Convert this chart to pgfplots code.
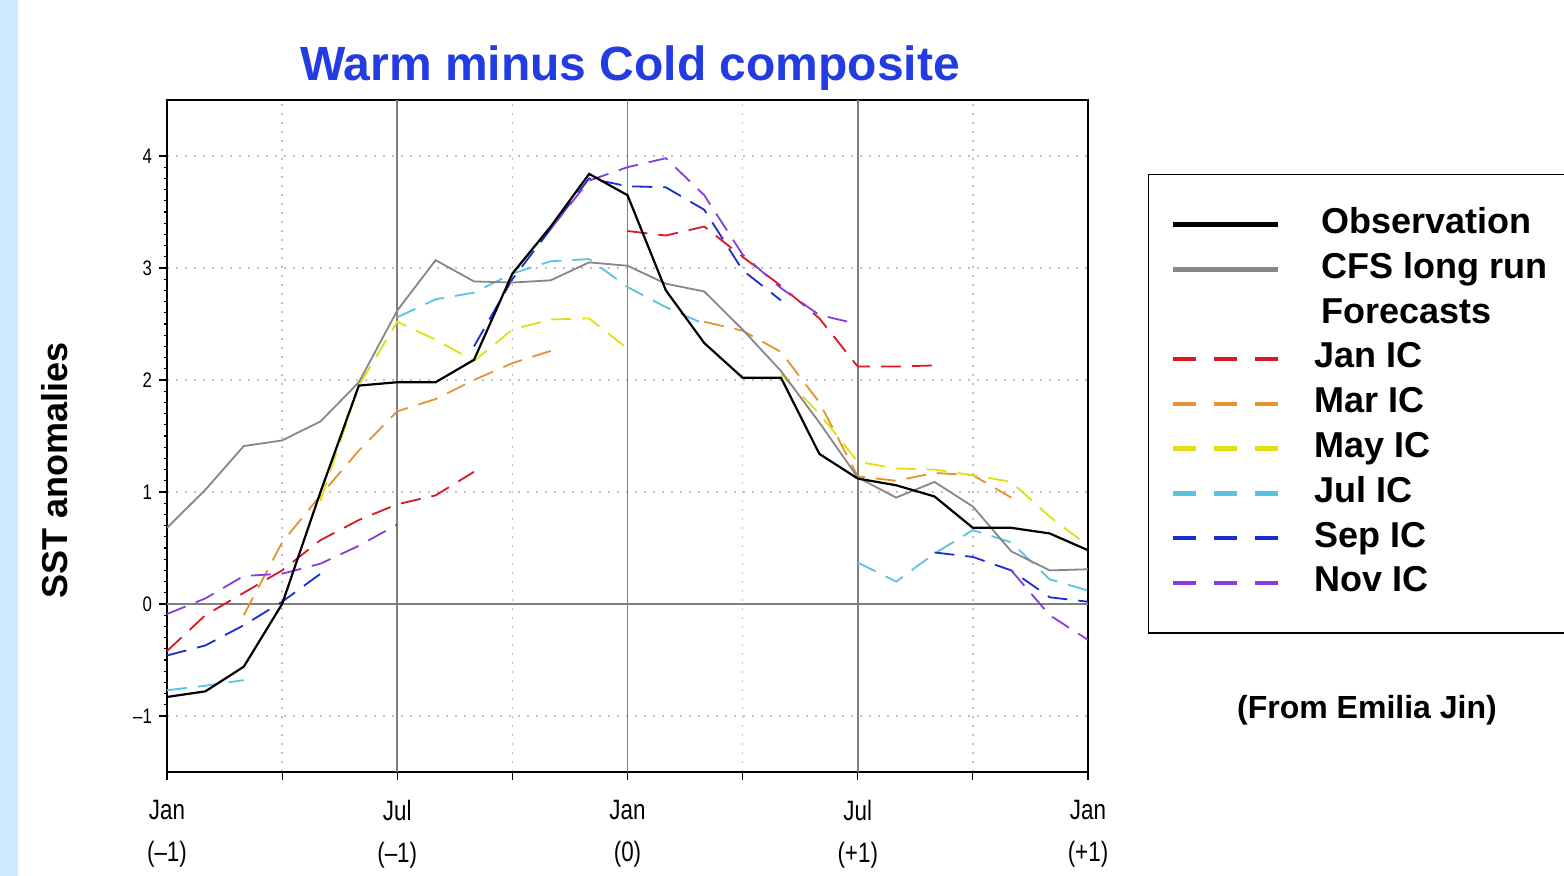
\documentclass[border=0pt]{standalone}
\usepackage{pgfplots}
\pgfplotsset{compat=1.18}
\usepackage{fontspec}
\setmainfont{Liberation Sans}
\newfontfamily\tickfont[FakeStretch=0.8]{Liberation Sans}
\definecolor{janred}{RGB}{215,25,35}
\definecolor{marorange}{RGB}{230,145,50}
\definecolor{mayyellow}{RGB}{225,222,20}
\definecolor{julcyan}{RGB}{90,195,228}
\definecolor{sepblue}{RGB}{25,45,210}
\definecolor{novpurple}{RGB}{135,60,220}
\definecolor{cfsgray}{RGB}{135,135,135}
\definecolor{titleblue}{RGB}{35,60,225}
\definecolor{stripblue}{RGB}{205,232,255}
\newcommand{\lgA}[1]{\makebox[140pt][l]{\hspace{20.5pt}#1}}
\newcommand{\lgB}[1]{\makebox[140pt][l]{\hspace{17pt}#1}}
\begin{document}
\begin{tikzpicture}[x=1pt,y=1pt]
\path[use as bounding box] (-83.5,-52) rectangle (698.5,386);
\fill[stripblue] (-83.5,-52) rectangle (-74.5,386);
\begin{axis}[
  at={(0pt,0pt)}, anchor=south west,
  scale only axis, width=460.5pt, height=336pt,
  xmin=0, xmax=24, ymin=-1.5, ymax=4.5,
  xtick={0,3,...,24},
  xticklabels={{Jan\\(–1)},,{Jul\\(–1)},,{Jan\\(0)},,{Jul\\(+1)},,{Jan\\(+1)}},
  xticklabel style={align=center, font=\tickfont\fontsize{14}{21}\selectfont, inner sep=0pt, yshift=-10pt},
  ytick={-1,0,1,2,3,4},
  yticklabels={–1,0,1,2,3,4},
  yticklabel style={font=\tickfont\fontsize{10.5}{12}\selectfont},
  minor y tick num=9,
  xtick pos=bottom, ytick pos=left,
  tick align=outside, major tick length=4pt, minor tick length=1.6pt,
  tick style={black, line width=0.6pt},
  axis line style={black, line width=0.9pt},
  xmajorgrids, ymajorgrids,
  major grid style={gray!50, line width=0.7pt, dash pattern=on 1pt off 3.5pt},
  extra x ticks={6,12,18}, extra x tick labels={},
  extra x tick style={major grid style={solid, gray, line width=0.8pt, dash pattern=}},
  extra y ticks={0}, extra y tick labels={},
  extra y tick style={major grid style={solid, gray, line width=0.8pt, dash pattern=}},
  title={Warm minus Cold composite},
  title style={font=\bfseries\fontsize{24}{28}\selectfont, text=titleblue, at={(axis description cs:0.5027,1.0115)}, anchor=base},
  ylabel={SST anomalies},
  ylabel style={font=\bfseries\fontsize{18}{20}\selectfont, at={(axis description cs:-0.1216,0.449)}, anchor=center},
  legend style={at={(axis description cs:1.0651,0.8899)}, anchor=north west,
    draw=black, line width=0.6pt, fill=white,
    font=\bfseries\fontsize{18}{20}\selectfont,
    inner xsep=11pt, inner ysep=16.5pt, row sep=5.4pt, column sep=0pt,
    nodes={inner sep=0pt, text height=13pt, text depth=4pt}},
  legend cell align=left,
  legend image code/.code={\draw[#1] (0pt,0pt) -- (52.5pt,0pt);},
  fdash/.style={line width=0.9pt, dash pattern=on 10pt off 5.5pt},
]
% legend images
\addlegendimage{black, line width=2.4pt}
\addlegendentry{\lgA{Observation}}
\addlegendimage{cfsgray, line width=2.4pt}
\addlegendentry{\lgA{CFS long run}}
\addlegendimage{empty legend}
\addlegendentry{\lgA{Forecasts}}
\addlegendimage{janred, line width=2.2pt, dash pattern=on 11.5pt off 9pt}
\addlegendentry{\lgB{Jan IC}}
\addlegendimage{marorange, line width=2.2pt, dash pattern=on 11.5pt off 9pt}
\addlegendentry{\lgB{Mar IC}}
\addlegendimage{mayyellow, line width=2.2pt, dash pattern=on 11.5pt off 9pt}
\addlegendentry{\lgB{May IC}}
\addlegendimage{julcyan, line width=2.2pt, dash pattern=on 11.5pt off 9pt}
\addlegendentry{\lgB{Jul IC}}
\addlegendimage{sepblue, line width=2.2pt, dash pattern=on 11.5pt off 9pt}
\addlegendentry{\lgB{Sep IC}}
\addlegendimage{novpurple, line width=2.2pt, dash pattern=on 11.5pt off 9pt}
\addlegendentry{\lgB{Nov IC}}
% Jan IC
\addplot[janred, fdash, forget plot] coordinates {(0,-0.42)(1,-0.1)(2,0.1)(3,0.3)(4,0.57)(5,0.75)(6,0.89)(7,0.97)(8,1.18)};
\addplot[janred, fdash, forget plot] coordinates {(12,3.33)(13,3.29)(14,3.37)(15,3.1)(16,2.84)(17,2.55)(18,2.12)(19,2.12)(20,2.13)};
% Mar IC
\addplot[marorange, fdash, forget plot] coordinates {(2,-0.1)(3,0.55)(4,0.97)(5,1.37)(6,1.72)(7,1.83)(8,2.0)(9,2.15)(10,2.26)};
\addplot[marorange, fdash, forget plot] coordinates {(14,2.52)(15,2.44)(16,2.25)(17,1.8)(18,1.14)(19,1.1)(20,1.17)(21,1.15)(22,0.95)};
% May IC
\addplot[mayyellow, fdash, forget plot] coordinates {(4,0.92)(5,1.95)(6,2.52)(7,2.36)(8,2.17)(9,2.45)(10,2.54)(11,2.55)(12,2.28)};
\addplot[mayyellow, fdash, forget plot] coordinates {(16,2.05)(17,1.7)(18,1.27)(19,1.21)(20,1.2)(21,1.15)(22,1.09)(23,0.78)(24,0.52)};
% Jul IC
\addplot[julcyan, fdash, forget plot] coordinates {(0,-0.77)(1,-0.73)(2,-0.68)};
\addplot[julcyan, fdash, forget plot] coordinates {(6,2.56)(7,2.72)(8,2.78)(9,2.95)(10,3.06)(11,3.08)(12,2.83)(13,2.65)(14,2.5)};
\addplot[julcyan, fdash, forget plot] coordinates {(18,0.37)(19,0.2)(20,0.45)(21,0.66)(22,0.55)(23,0.22)(24,0.12)};
% Sep IC
\addplot[sepblue, fdash, forget plot] coordinates {(0,-0.46)(1,-0.37)(2,-0.19)(3,0.02)(4,0.27)};
\addplot[sepblue, fdash, forget plot] coordinates {(8,2.3)(9,2.9)(10,3.35)(11,3.8)(12,3.73)(13,3.72)(14,3.52)(15,2.98)(16,2.71)};
\addplot[sepblue, fdash, forget plot] coordinates {(20,0.46)(21,0.42)(22,0.3)(23,0.06)(24,0.02)};
% Nov IC
\addplot[novpurple, fdash, forget plot] coordinates {(0,-0.09)(1,0.05)(2,0.25)(3,0.27)(4,0.36)(5,0.52)(6,0.71)};
\addplot[novpurple, fdash, forget plot] coordinates {(10,3.35)(11,3.78)(12,3.9)(13,3.98)(14,3.65)(15,3.12)(16,2.82)(17,2.58)(18,2.5)};
\addplot[novpurple, fdash, forget plot] coordinates {(22,0.3)(23,-0.1)(24,-0.32)};
% CFS long run
\addplot[cfsgray, line width=0.9pt, forget plot] coordinates {(0,0.68)(1,1.02)(2,1.41)(3,1.46)(4,1.63)(5,1.98)(6,2.62)(7,3.07)(8,2.88)(9,2.87)(10,2.89)(11,3.05)(12,3.02)(13,2.86)(14,2.79)(15,2.45)(16,2.08)(17,1.62)(18,1.13)(19,0.95)(20,1.09)(21,0.87)(22,0.47)(23,0.30)(24,0.31)};
% Observation
\addplot[black, line width=1.1pt, forget plot] coordinates {(0,-0.83)(1,-0.78)(2,-0.56)(3,0.0)(4,1.0)(5,1.95)(6,1.98)(7,1.98)(8,2.18)(9,2.95)(10,3.37)(11,3.84)(12,3.65)(13,2.8)(14,2.33)(15,2.02)(16,2.02)(17,1.34)(18,1.12)(19,1.06)(20,0.96)(21,0.68)(22,0.68)(23,0.63)(24,0.48)};
\end{axis}
\node[font=\bfseries\fontsize{16}{18}\selectfont] at (600,31) {(From Emilia Jin)};
\end{tikzpicture}
\end{document}
